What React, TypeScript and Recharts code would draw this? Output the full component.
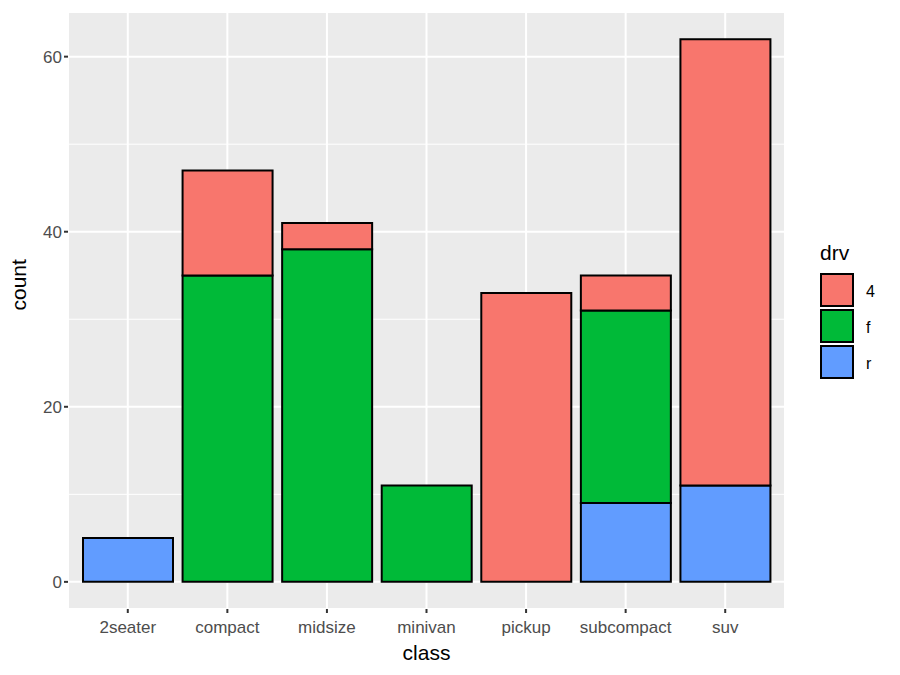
import React from 'react';
import { BarChart, Bar, XAxis, YAxis, CartesianGrid } from 'recharts';

const classes = ['2seater', 'compact', 'midsize', 'minivan', 'pickup', 'subcompact', 'suv'];
const drv4 = [0, 12, 3, 0, 33, 4, 51];
const drvF = [0, 35, 38, 11, 0, 22, 0];
const drvR = [5, 0, 0, 0, 0, 9, 11];
const yTicks = [0, 20, 40, 60];
const minorTicks = [10, 30, 50];

const fills = { r: '#619CFF', f: '#00BA38', '4': '#F8766D' };
const legendItems = [
  { key: '4', color: fills['4'] },
  { key: 'f', color: fills.f },
  { key: 'r', color: fills.r },
];

const data = classes.map((name, i) => ({ name, r: drvR[i], f: drvF[i], d4: drv4[i] }));

const font = '"Liberation Sans", Arial, sans-serif';

// ggplot-style legend placed to the right of the panel
const DrvLegend = () => (
  <div style={{ position: 'absolute', left: 820, top: 238, fontFamily: font }}>
    <div style={{ fontSize: 21, color: '#000', height: 34, lineHeight: '30px' }}>drv</div>
    {legendItems.map(item => (
      <div key={item.key} style={{ display: 'flex', alignItems: 'center', height: 36 }}>
        <div
          style={{
            width: 34,
            height: 34,
            background: item.color,
            border: '2px solid #000',
            boxSizing: 'border-box',
          }}
        />
        <span style={{ marginLeft: 12, fontSize: 16, color: '#000', position: 'relative', top: 2 }}>{item.key}</span>
      </div>
    ))}
  </div>
);

export default function App() {
  return (
    <div style={{ position: 'absolute', left: 0, top: 0, width: 900, height: 675, background: '#fff' }}>
      <BarChart
        width={900}
        height={675}
        data={data}
        margin={{ top: 12, right: 115, left: 0, bottom: 0 }}
        barSize={90}
      >
        <CartesianGrid fill="#EBEBEB" stroke="#FFFFFF" strokeWidth={2} />
        <CartesianGrid
          horizontalValues={minorTicks}
          vertical={false}
          stroke="#FFFFFF"
          strokeWidth={1}
          fill="none"
        />
        <XAxis
          dataKey="name"
          padding={{ left: 10, right: 10 }}
          height={66}
          axisLine={false}
          tickSize={4}
          tickLine={{ stroke: '#333333', strokeWidth: 2 }}
          tick={{ fill: '#4D4D4D', fontSize: 17, fontFamily: font, dy: 6 }}
          label={{ value: 'class', position: 'insideBottom', offset: 15, fill: '#000', fontSize: 21, fontFamily: font }}
        />
        <YAxis
          width={68}
          domain={[-3.1, 65.1]}
          ticks={yTicks}
          axisLine={false}
          tickSize={4}
          tickLine={{ stroke: '#333333', strokeWidth: 2 }}
          tick={{ fill: '#4D4D4D', fontSize: 17, fontFamily: font }}
          label={{ value: 'count', angle: -90, position: 'insideLeft', offset: 19, fill: '#000', fontSize: 21, fontFamily: font }}
        />
        <Bar dataKey="r" stackId="a" fill={fills.r} stroke="#000" strokeWidth={2} isAnimationActive={false} />
        <Bar dataKey="f" stackId="a" fill={fills.f} stroke="#000" strokeWidth={2} isAnimationActive={false} />
        <Bar dataKey="d4" stackId="a" fill={fills['4']} stroke="#000" strokeWidth={2} isAnimationActive={false} />
      </BarChart>
      <DrvLegend />
    </div>
  );
}
